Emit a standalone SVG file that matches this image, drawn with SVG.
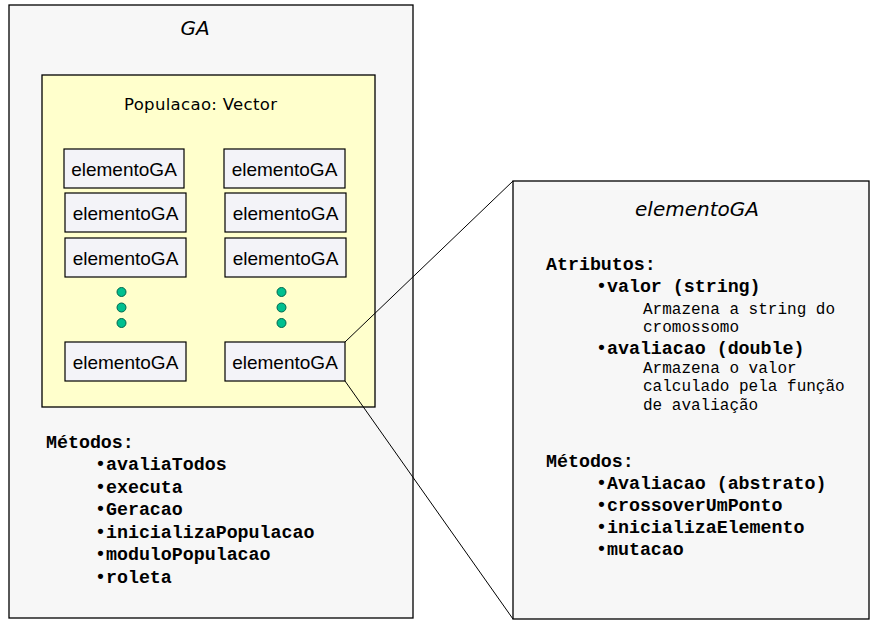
<svg xmlns="http://www.w3.org/2000/svg" width="876" height="629" viewBox="0 0 876 629">
<style>
.frame{fill:#f7f7f7;stroke:#000;stroke-width:1.3}
.pop{fill:#ffffcc;stroke:#000;stroke-width:1.3}
.el{fill:#f3f3f8;stroke:#000;stroke-width:1.2}
.elt{font-family:"Liberation Sans",Arial,sans-serif;font-size:19px;fill:#000;text-anchor:middle}
.title{font-family:"DejaVu Sans",sans-serif;font-style:italic;font-size:20px;fill:#000;text-anchor:middle}
.sub{font-family:"DejaVu Sans",sans-serif;font-size:16.5px;fill:#000}
.mono{font-family:"Liberation Mono","Courier New",monospace;font-weight:bold;font-size:18.3px;fill:#000}
.small{font-family:"Liberation Mono","Courier New",monospace;font-size:16px;fill:#000}
.dot{fill:#00c08f;stroke:#00664c;stroke-width:1}
.conn{stroke:#000;stroke-width:1;fill:none}
</style>
<g id="GA">
<rect class="frame" x="9" y="5" width="404" height="613"/>
<text class="title" x="195" y="35">GA</text>
<g id="Populacao">
<rect class="pop" x="42" y="75" width="333" height="332"/>
<text class="sub" x="124" y="110" textLength="153">Populacao: Vector</text>
</g>
<g id="el1"><rect class="el" x="64" y="149" width="120" height="39"/><text class="elt" x="124" y="176">elementoGA</text></g>
<g id="el2"><rect class="el" x="65" y="193" width="121" height="39"/><text class="elt" x="125.5" y="220">elementoGA</text></g>
<g id="el3"><rect class="el" x="65" y="238" width="121" height="39"/><text class="elt" x="125.5" y="265">elementoGA</text></g>
<g id="el4"><rect class="el" x="65" y="342" width="121" height="39"/><text class="elt" x="125.5" y="369">elementoGA</text></g>
<g id="el5"><rect class="el" x="224" y="149" width="121" height="39"/><text class="elt" x="284.5" y="176">elementoGA</text></g>
<g id="el6"><rect class="el" x="225" y="193" width="121" height="39"/><text class="elt" x="285.5" y="220">elementoGA</text></g>
<g id="el7"><rect class="el" x="225" y="238" width="121" height="39"/><text class="elt" x="285.5" y="265">elementoGA</text></g>
<g id="el8"><rect class="el" x="225" y="342" width="120" height="39"/><text class="elt" x="285" y="369">elementoGA</text></g>
<g id="dots">
<circle class="dot" cx="121.5" cy="292" r="4.5"/>
<circle class="dot" cx="121.5" cy="307.5" r="4.5"/>
<circle class="dot" cx="121.5" cy="323" r="4.5"/>
<circle class="dot" cx="281.5" cy="292" r="4.5"/>
<circle class="dot" cx="281.5" cy="307.5" r="4.5"/>
<circle class="dot" cx="281.5" cy="323" r="4.5"/>
</g>
<text class="mono" x="46" y="448">Métodos:</text>
<text class="mono" x="95" y="470">•avaliaTodos</text>
<text class="mono" x="95" y="493">•executa</text>
<text class="mono" x="95" y="515">•Geracao</text>
<text class="mono" x="95" y="538">•inicializaPopulacao</text>
<text class="mono" x="95" y="560">•moduloPopulacao</text>
<text class="mono" x="95" y="583">•roleta</text>
</g>
<g id="elementoGA-detail">
<rect class="frame" x="513" y="181" width="356" height="438"/>
<text class="title" x="697" y="216">elementoGA</text>
<text class="mono" x="546" y="270">Atributos:</text>
<text class="mono" x="596" y="292">•valor (string)</text>
<text class="small" x="643" y="314">Armazena a string do</text>
<text class="small" x="643" y="332">cromossomo</text>
<text class="mono" x="596" y="354">•avaliacao (double)</text>
<text class="small" x="643" y="373">Armazena o valor</text>
<text class="small" x="643" y="391">calculado pela função</text>
<text class="small" x="643" y="410">de avaliação</text>
<text class="mono" x="546" y="467">Métodos:</text>
<text class="mono" x="596" y="489">•Avaliacao (abstrato)</text>
<text class="mono" x="596" y="511">•crossoverUmPonto</text>
<text class="mono" x="596" y="533">•inicializaElemento</text>
<text class="mono" x="596" y="555">•mutacao</text>
</g>
<g id="connectors">
<line class="conn" x1="345" y1="342" x2="513" y2="181"/>
<line class="conn" x1="345" y1="381" x2="513" y2="619"/>
</g>
</svg>
